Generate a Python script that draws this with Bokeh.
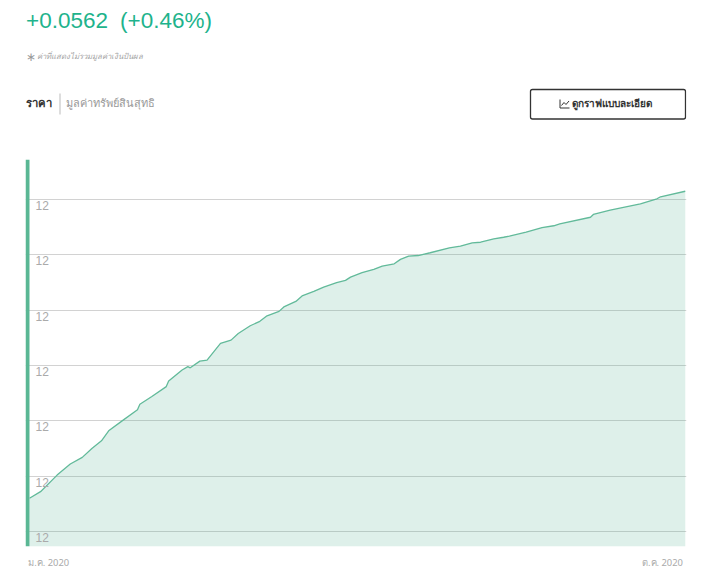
from bokeh.embed import file_html
from bokeh.resources import INLINE
from bokeh.plotting import figure
from bokeh.layouts import column
from bokeh.models import Range1d, FixedTicker, BoxAnnotation
from bokeh.core.properties import value

days = [0, 4.6, 11.5, 17, 22, 26, 30, 33, 38.6, 45, 46, 51, 57, 58, 63.6, 66, 67, 71, 74, 79.6,
        84, 87, 92, 96, 99, 104, 106, 111, 113.6, 118.5, 122.6, 128, 131.7, 133.8, 138.6, 143.5,
        147, 152, 154.6, 158, 162, 167, 175, 179.6, 184.5, 188, 193.5, 197.6, 200, 207, 213.6,
        218.5, 221, 233.8, 235, 242, 254.6, 261.5, 263, 273.3]
nav = [12.030, 12.036, 12.051, 12.061, 12.067, 12.075, 12.082, 12.091, 12.100, 12.110, 12.115,
       12.122, 12.131, 12.136, 12.146, 12.149, 12.148, 12.154, 12.155, 12.170, 12.173, 12.179,
       12.186, 12.190, 12.195, 12.199, 12.203, 12.208, 12.213, 12.217, 12.221, 12.225, 12.227,
       12.230, 12.234, 12.237, 12.240, 12.242, 12.246, 12.249, 12.2495, 12.252, 12.2565, 12.258,
       12.261, 12.2615, 12.2646, 12.266, 12.267, 12.2706, 12.2748, 12.2764, 12.2782, 12.2841,
       12.2866, 12.2905, 12.2962, 12.3008, 12.3026, 12.3076]
y_ticks = [12.00, 12.05, 12.10, 12.15, 12.20, 12.25, 12.30]
y_labels = ["12"] * 7
x_ticks = [8.0, 263.8]
x_labels = ["ม.ค. 2020", "ต.ค. 2020"]
change_value = "+0.0562"
change_pct = "(+0.46%)"
note_text = "ค่าที่แสดงไม่รวมมูลค่าเงินปันผล"
tab_active = "ราคา"
tab_other = "มูลค่าทรัพย์สินสุทธิ"
button_text = "ดูกราฟแบบละเอียด"

GREEN = "#5ab794"
LINE_GREEN = "#62ba9a"
FONT = "Liberation Sans"
THAI = "Noto Sans"

X0, X1, Y_TOP, Y_BOT = -1.6635, 273.817, 12.3363, 11.98644
BAR_X = -0.83

# header strip: its ranges are the page's own pixels, over the frame shared with the chart
h = figure(width=712, height=159, output_backend="svg", toolbar_location=None,
           x_range=Range1d(25, 686), y_range=Range1d(159, 0),
           min_border_left=25, min_border_right=26, min_border_top=0, min_border_bottom=0,
           x_axis_location=None, y_axis_location=None)
h.outline_line_color = None
h.grid.visible = False
h.background_fill_color = None
h.border_fill_color = None


def label(px, py, text, color, size, font=THAI, style="normal"):
    h.text(x=[px], y=[py], text=[text], text_color=color, text_font=value(font),
           text_font_size=size, text_font_style=style, text_baseline="middle", text_align="left")


label(25.5, 20, change_value, "#1eb38c", "22.5px", FONT)
label(119.5, 20, change_pct, "#1eb38c", "22.5px", FONT)
label(25, 56, "∗", "#999999", "12px", FONT)
label(36.5, 55.5, note_text, "#a3a3a3", "7.8px", THAI, "italic")
label(25.5, 102, tab_active, "#333333", "11.3px", THAI, "bold")
label(65.5, 102, tab_other, "#999999", "11px")
h.segment(x0=[59.5], y0=[93], x1=[59.5], y1=[114], line_color="#bbbbbb", line_width=1)
h.add_layout(BoxAnnotation(left=530, right=685, top=89, bottom=118.5, fill_color=None,
                           line_color="#333333", line_alpha=1, line_width=1.3, border_radius=2))
label(571.5, 102.5, button_text, "#333333", "10px", THAI, "bold")
h.line(x=[559.5, 559.5, 569], y=[99, 107.5, 107.5], line_color="#333333", line_width=1)
h.line(x=[561, 563.5, 565.5, 568.5], y=[105, 102, 104, 100.5], line_color="#333333", line_width=1)

# chart
p = figure(width=712, height=419, output_backend="svg", toolbar_location=None,
           x_range=Range1d(X0, X1), y_range=Range1d(Y_BOT, Y_TOP),
           min_border_left=25, min_border_right=26, min_border_top=0, min_border_bottom=32)
p.outline_line_color = None
p.background_fill_color = None
p.border_fill_color = None

p.xgrid.visible = False
p.ygrid.ticker = FixedTicker(ticks=y_ticks)
p.ygrid.grid_line_color = "#d2d2d2"
p.ygrid.grid_line_width = 1

ax = p.xaxis[0]
ax.ticker = FixedTicker(ticks=x_ticks)
ax.major_label_overrides = dict(zip(x_ticks, x_labels))
ax.axis_line_color = None
ax.major_tick_line_color = None
ax.minor_tick_line_color = None
ax.major_label_text_color = "#aaaaaa"
ax.major_label_text_font = THAI
ax.major_label_text_font_size = "9.4px"
ax.major_label_standoff = 3

p.yaxis.visible = False

p.varea(x=days, y1=[Y_BOT] * len(days), y2=nav, fill_color="#4eb08f", fill_alpha=0.19)
p.line(x=days, y=nav, line_color=LINE_GREEN, line_width=1.3)
p.segment(x0=[BAR_X], y0=[Y_BOT], x1=[BAR_X], y1=[Y_TOP], line_color=GREEN, line_width=4)
p.text(x=[days[0]] * len(y_ticks), y=y_ticks, text=y_labels, x_offset=6, y_offset=6,
       text_baseline="middle", text_align="left", text_color="#aaaaaa",
       text_font=value(FONT), text_font_size="12px")

open("out.html", "w").write(file_html(column(h, p, spacing=0), INLINE))
